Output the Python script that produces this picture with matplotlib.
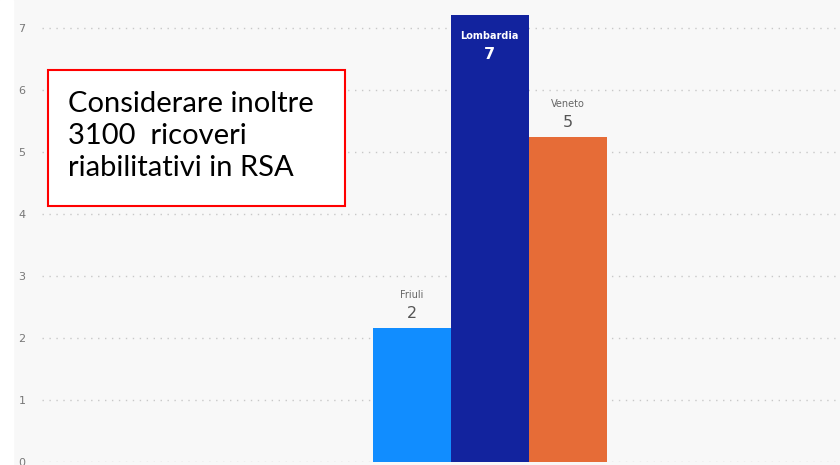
import matplotlib.pyplot as plt
from matplotlib.patches import Rectangle

regions = ['Friuli', 'Lombardia', 'Veneto']
values = [2.16, 7.21, 5.24]
shown = ['2', '7', '5']
colors = ['#118DFF', '#12239E', '#E66C37']
note = 'Considerare inoltre\n3100  ricoveri\nriabilitativi in RSA'

PX = 0.72  # points per pixel at dpi 100

fig = plt.figure(figsize=(8.4, 4.65), dpi=100, facecolor='#f8f8f8')
# white strip at the left edge
fig.patches.append(Rectangle((0, 0), 13 / 840, 1, transform=fig.transFigure,
                             color='white', zorder=0))

ax = fig.add_axes([42 / 840, 3 / 465, 798 / 840, 462 / 465])
ax.set_facecolor('#f8f8f8')

x = list(range(len(regions)))
ax.bar(x, values, width=1.0, color=colors, zorder=3)

ax.set_xlim(-4.74, 5.49)
ax.set_ylim(0, 7.45)
ax.set_yticks(range(0, 8))
ax.set_xticks([])
ax.grid(axis='y', linestyle=(0, (1, 4)), color='#c8c8c8', linewidth=1, zorder=0)
for s in ax.spines.values():
    s.set_visible(False)
ax.tick_params(axis='y', length=0, labelsize=8, labelcolor='#777777', pad=12)

# data labels
for xi, v, name, lab in zip(x, values, regions, shown):
    if v > 7:
        ax.annotate(name, (xi, v), xytext=(0, -21 * PX), textcoords='offset points',
                    ha='center', va='center', fontsize=7, color='white',
                    fontweight='bold', zorder=4)
        ax.annotate(lab, (xi, v), xytext=(0, -40 * PX), textcoords='offset points',
                    ha='center', va='center', fontsize=11.5, color='white',
                    fontweight='bold', zorder=4)
    else:
        ax.annotate(name, (xi, v), xytext=(0, 33 * PX), textcoords='offset points',
                    ha='center', va='center', fontsize=7, color='#666666', zorder=4)
        ax.annotate(lab, (xi, v), xytext=(0, 15 * PX), textcoords='offset points',
                    ha='center', va='center', fontsize=11.5, color='#555555', zorder=4)

# note box
fig.patches.append(Rectangle((48 / 840, 1 - 206 / 465), 297 / 840, 136 / 465,
                             transform=fig.transFigure, facecolor='white',
                             edgecolor='#ff0000', linewidth=1.5, zorder=5))
fig.text(68 / 840, 1 - 136 / 465, note, fontsize=21, family='Lato',
         ha='left', va='center', linespacing=1.28, color='black', zorder=6)

fig.savefig('out.png', dpi=100, facecolor=fig.get_facecolor())
